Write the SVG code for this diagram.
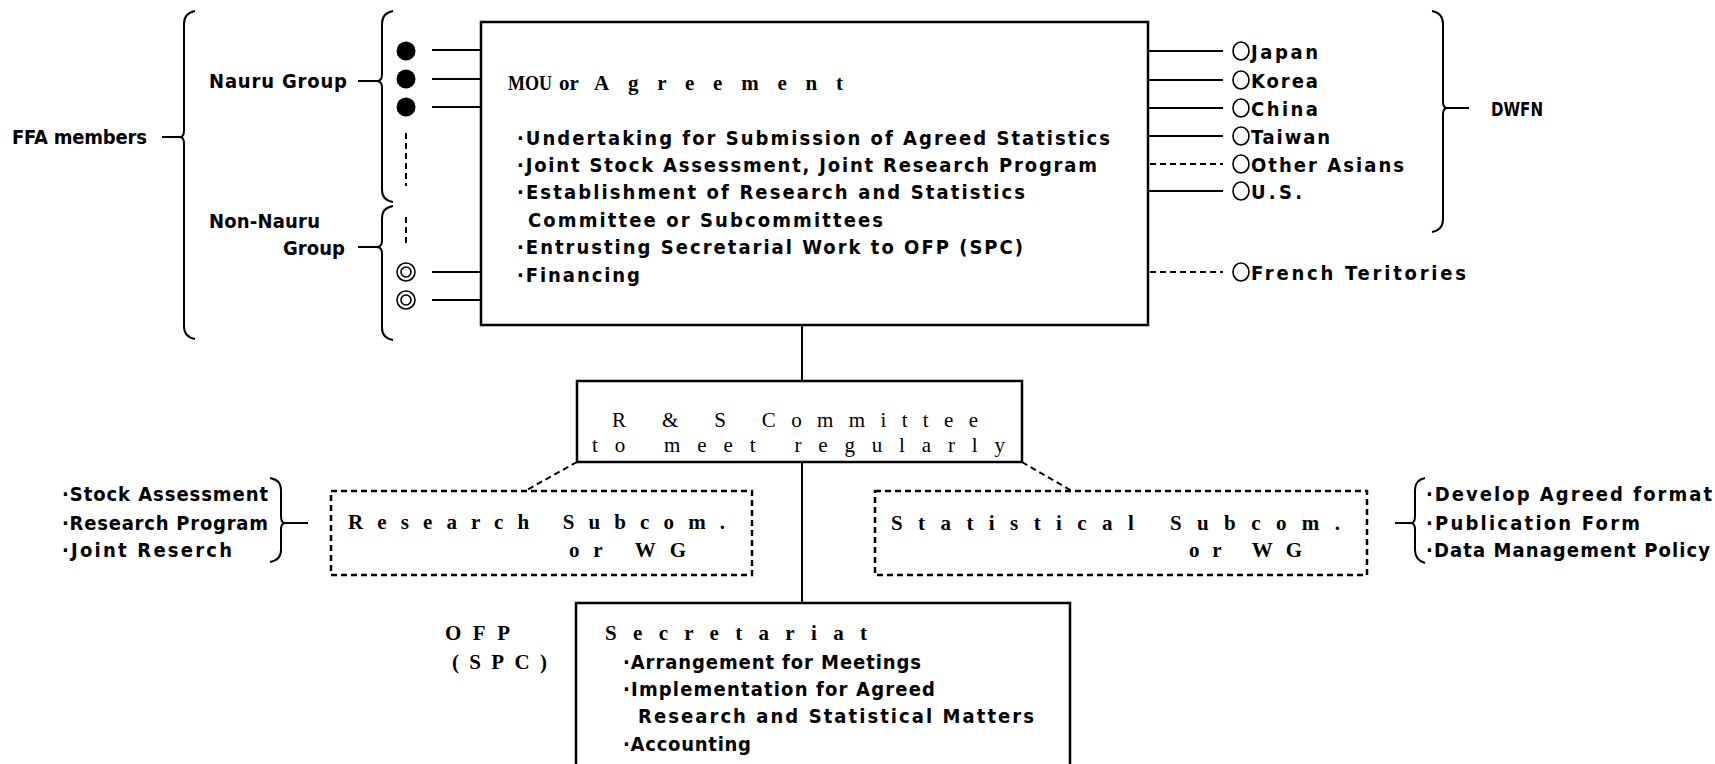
<svg xmlns="http://www.w3.org/2000/svg" width="1715" height="764" viewBox="0 0 1715 764">
<style>
.b{font-family:"Liberation Sans Narrow","DejaVu Sans Condensed","Liberation Sans",sans-serif;font-weight:bold;font-size:20px;fill:#000}
.s{font-family:"Liberation Serif",serif;font-weight:bold;font-size:21px;fill:#000}
.sr{font-weight:normal}
.ln{stroke:#000;stroke-width:2;fill:none}
.box{stroke:#000;stroke-width:2.5;fill:none}
.dash{stroke-dasharray:6 4}
.dot{fill:#000}
.ring{fill:none;stroke:#000;stroke-width:1.6}
</style>
<rect width="1715" height="764" fill="#fff"/>

<g id="ffa-members">
<text class="b" x="12" y="144" textLength="135" lengthAdjust="spacing">FFA members</text>
<path class="ln" d="M195,11 Q184,13 184,24 L184,130 Q184,137 180,137 Q184,137 184,144 L184,326 Q184,337 195,339"/>
</g>

<g id="nauru-group">
<text class="b" x="209" y="88" textLength="138" lengthAdjust="spacing">Nauru Group</text>
<path class="ln" d="M393,11 Q382,13 382,24 L382,74 Q382,81 377,81 Q382,81 382,88 L382,190 Q382,200 393,202"/>
<circle class="dot" cx="406" cy="51" r="9.5"/>
<circle class="dot" cx="406" cy="79" r="9.5"/>
<circle class="dot" cx="406" cy="107" r="9.5"/>
<line class="ln dash" x1="406" y1="133" x2="406" y2="186"/>
</g>

<g id="non-nauru-group">
<text class="b" x="209" y="228" textLength="111" lengthAdjust="spacing">Non-Nauru</text>
<text class="b" x="283" y="255" textLength="62" lengthAdjust="spacing">Group</text>
<path class="ln" d="M393,206 Q382,208 382,218 L382,240 Q382,247 377,247 Q382,247 382,254 L382,328 Q382,338 393,340"/>
<line class="ln dash" x1="406" y1="217" x2="406" y2="245"/>
<circle class="ring" cx="406" cy="272" r="9"/>
<circle class="ring" cx="406" cy="272" r="5"/>
<circle class="ring" cx="406" cy="300" r="9"/>
<circle class="ring" cx="406" cy="300" r="5"/>
</g>

<g id="mou-box">
<rect class="box" x="481" y="22" width="667" height="303"/>
<text class="s" y="90"><tspan x="508" textLength="44" lengthAdjust="spacingAndGlyphs">MOU</tspan> <tspan x="559">or</tspan> <tspan x="594" textLength="249" lengthAdjust="spacing">Agreement</tspan></text>
<text class="b" x="517" y="145" textLength="593" lengthAdjust="spacing">·Undertaking for Submission of Agreed Statistics</text>
<text class="b" x="517" y="172" textLength="580" lengthAdjust="spacing">·Joint Stock Assessment, Joint Research Program</text>
<text class="b" x="517" y="199" textLength="508" lengthAdjust="spacing">·Establishment of Research and Statistics</text>
<text class="b" x="528" y="227" textLength="355" lengthAdjust="spacing">Committee or Subcommittees</text>
<text class="b" x="517" y="254" textLength="506" lengthAdjust="spacing">·Entrusting Secretarial Work to OFP (SPC)</text>
<text class="b" x="517" y="282" textLength="123" lengthAdjust="spacing">·Financing</text>
</g>

<g id="dwfn">
<ellipse class="ring" cx="1241" cy="51" rx="8" ry="9"/>
<ellipse class="ring" cx="1241" cy="80" rx="8" ry="9"/>
<ellipse class="ring" cx="1241" cy="108" rx="8" ry="9"/>
<ellipse class="ring" cx="1241" cy="136" rx="8" ry="9"/>
<ellipse class="ring" cx="1241" cy="164" rx="8" ry="9"/>
<ellipse class="ring" cx="1241" cy="191" rx="8" ry="9"/>
<text class="b" x="1251" y="59" textLength="67" lengthAdjust="spacing">Japan</text>
<text class="b" x="1251" y="88" textLength="67" lengthAdjust="spacing">Korea</text>
<text class="b" x="1251" y="116" textLength="67" lengthAdjust="spacing">China</text>
<text class="b" x="1251" y="144" textLength="79" lengthAdjust="spacing">Taiwan</text>
<text class="b" x="1251" y="172" textLength="153" lengthAdjust="spacing">Other Asians</text>
<text class="b" x="1251" y="199" textLength="51" lengthAdjust="spacing">U.S.</text>
<path class="ln" d="M1432,11 Q1443,13 1443,24 L1443,101 Q1443,108 1447,108 Q1443,108 1443,115 L1443,219 Q1443,230 1432,232"/>
<text class="b" x="1491" y="116" textLength="52" lengthAdjust="spacingAndGlyphs">DWFN</text>
</g>

<g id="french-territories">
<ellipse class="ring" cx="1241" cy="272" rx="8" ry="9"/>
<text class="b" x="1251" y="280" textLength="215" lengthAdjust="spacing">French Teritories</text>
</g>

<g id="rs-committee">
<rect class="box" x="577" y="381" width="445" height="81"/>
<text class="s sr" x="612" y="427" textLength="366" lengthAdjust="spacing">R &amp; S Committee</text>
<text class="s sr" x="592" y="452" textLength="413" lengthAdjust="spacing">to meet regularly</text>
</g>

<g id="research-subcom">
<rect class="box dash" x="331" y="491" width="421" height="84"/>
<text class="s" x="348" y="529" textLength="377" lengthAdjust="spacing">Research Subcom.</text>
<text class="s" x="569" y="557" textLength="117" lengthAdjust="spacing">or WG</text>
</g>

<g id="research-topics">
<text class="b" x="62" y="501" textLength="206" lengthAdjust="spacing">·Stock Assessment</text>
<text class="b" x="62" y="530" textLength="206" lengthAdjust="spacing">·Research Program</text>
<text class="b" x="62" y="557" textLength="170" lengthAdjust="spacing">·Joint Reserch</text>
<path class="ln" d="M270,478 Q281,480 281,490 L281,516 Q281,523 285,523 Q281,523 281,530 L281,550 Q281,560 270,562"/>
</g>

<g id="statistical-subcom">
<rect class="box dash" x="875" y="491" width="492" height="84"/>
<text class="s" x="891" y="530" textLength="449" lengthAdjust="spacing">Statistical Subcom.</text>
<text class="s" x="1189" y="557" textLength="113" lengthAdjust="spacing">or WG</text>
</g>

<g id="statistical-topics">
<path class="ln" d="M1425,478 Q1415,480 1415,490 L1415,516 Q1415,523 1411,523 Q1415,523 1415,530 L1415,550 Q1415,560 1425,563"/>
<text class="b" x="1426" y="501" textLength="286" lengthAdjust="spacing">·Develop Agreed format</text>
<text class="b" x="1426" y="530" textLength="214" lengthAdjust="spacing">·Publication Form</text>
<text class="b" x="1426" y="557" textLength="284" lengthAdjust="spacing">·Data Management Policy</text>
</g>

<g id="secretariat">
<path class="box" d="M576,766 V603 H1070 V766"/>
<text class="s" x="445" y="640" textLength="65" lengthAdjust="spacing">OFP</text>
<text class="s" x="452" y="669" textLength="95" lengthAdjust="spacing">(SPC)</text>
<text class="s" x="605" y="640" textLength="262" lengthAdjust="spacing">Secretariat</text>
<text class="b" x="623" y="669" textLength="298" lengthAdjust="spacing">·Arrangement for Meetings</text>
<text class="b" x="623" y="696" textLength="312" lengthAdjust="spacing">·Implementation for Agreed</text>
<text class="b" x="638" y="723" textLength="396" lengthAdjust="spacing">Research and Statistical Matters</text>
<text class="b" x="623" y="751" textLength="128" lengthAdjust="spacing">·Accounting</text>
</g>

<g id="connectors">
<line class="ln" x1="162" y1="137" x2="181" y2="137"/>
<line class="ln" x1="358" y1="81" x2="377" y2="81"/>
<line class="ln" x1="358" y1="247" x2="377" y2="247"/>
<line class="ln" x1="432" y1="50" x2="481" y2="50"/>
<line class="ln" x1="432" y1="79" x2="481" y2="79"/>
<line class="ln" x1="432" y1="107" x2="481" y2="107"/>
<line class="ln" x1="432" y1="272" x2="481" y2="272"/>
<line class="ln" x1="432" y1="300" x2="481" y2="300"/>
<line class="ln" x1="1148" y1="51" x2="1223" y2="51"/>
<line class="ln" x1="1148" y1="80" x2="1223" y2="80"/>
<line class="ln" x1="1148" y1="108" x2="1223" y2="108"/>
<line class="ln" x1="1148" y1="136" x2="1223" y2="136"/>
<line class="ln dash" x1="1150" y1="164" x2="1223" y2="164"/>
<line class="ln" x1="1148" y1="191" x2="1223" y2="191"/>
<line class="ln dash" x1="1150" y1="272" x2="1223" y2="272"/>
<line class="ln" x1="1447" y1="108" x2="1469" y2="108"/>
<line class="ln" x1="802" y1="325" x2="802" y2="381"/>
<line class="ln" x1="802" y1="462" x2="802" y2="603"/>
<line class="ln dash" x1="577" y1="462" x2="525" y2="491"/>
<line class="ln dash" x1="1022" y1="462" x2="1072" y2="491"/>
<line class="ln" x1="285" y1="523" x2="308" y2="523"/>
<line class="ln" x1="1395" y1="523" x2="1411" y2="523"/>
</g>
</svg>
